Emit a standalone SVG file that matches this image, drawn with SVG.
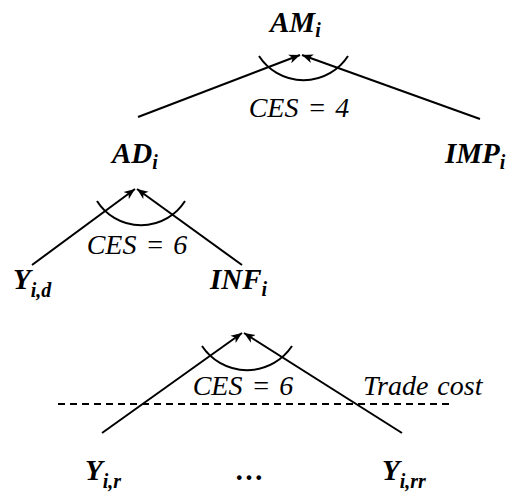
<svg xmlns="http://www.w3.org/2000/svg" width="514" height="492" viewBox="0 0 514 492">
<defs>
<marker id="arr" markerUnits="userSpaceOnUse" markerWidth="12" markerHeight="10" refX="11" refY="4.5" orient="auto" viewBox="0 0 12 9">
<path d="M0,0 L11,4.5 L0,9 L3,4.5 Z" fill="#000"/>
</marker>
<style>
.lbl{font-family:"Liberation Serif",serif;font-weight:bold;font-style:italic;font-size:29px;fill:#000}
.sub{font-size:20px}
.ces{font-family:"Liberation Serif",serif;font-style:italic;font-size:28px;fill:#000;word-spacing:2px}
.ln{stroke:#000;stroke-width:2;fill:none}
.arr{marker-end:url(#arr)}
</style>
</defs>
<rect width="514" height="492" fill="#fff"/>
<g id="connectors">
<path class="ln arr" d="M138,117 L300,55"/>
<path class="ln arr" d="M480,119 L302,55"/>
<path class="ln" d="M259,56 A53,53 0 0 0 348,56"/>
<path class="ln arr" d="M32,265 L135,189"/>
<path class="ln arr" d="M242,265 L137,189"/>
<path class="ln" d="M97,201 A52,52 0 0 0 185,201"/>
<path class="ln arr" d="M102,433 L242,333"/>
<path class="ln arr" d="M402,433 L244,333"/>
<path class="ln" d="M202,346 A54,54 0 0 0 292,346"/>
</g>
<g id="trade-cost">
<path class="ln" d="M58,404 H453" stroke-dasharray="7 5"/>
<text class="ces" x="363" y="395" font-size="29">Trade cost</text>
</g>
<g id="ces-labels">
<text class="ces" x="299" y="117" text-anchor="middle">CES = 4</text>
<text class="ces" x="137" y="254" text-anchor="middle">CES = 6</text>
<text class="ces" x="243" y="395" text-anchor="middle">CES = 6</text>
</g>
<g id="AM"><text class="lbl" x="270" y="32">AM<tspan class="sub" dy="5">i</tspan></text></g>
<g id="AD"><text class="lbl" x="112" y="163">AD<tspan class="sub" dy="6">i</tspan></text></g>
<g id="IMP"><text class="lbl" x="445" y="163">IMP<tspan class="sub" dy="6">i</tspan></text></g>
<g id="Yid"><text class="lbl" x="13" y="289">Y<tspan class="sub" dy="8">i,d</tspan></text></g>
<g id="INF"><text class="lbl" x="210" y="289">INF<tspan class="sub" dy="7">i</tspan></text></g>
<g id="Yir"><text class="lbl" x="85" y="480">Y<tspan class="sub" dy="8">i,r</tspan></text></g>
<g id="dots"><text class="lbl" x="250" y="480" text-anchor="middle">…</text></g>
<g id="Yirr"><text class="lbl" x="382" y="480">Y<tspan class="sub" dy="8">i,rr</tspan></text></g>
</svg>
